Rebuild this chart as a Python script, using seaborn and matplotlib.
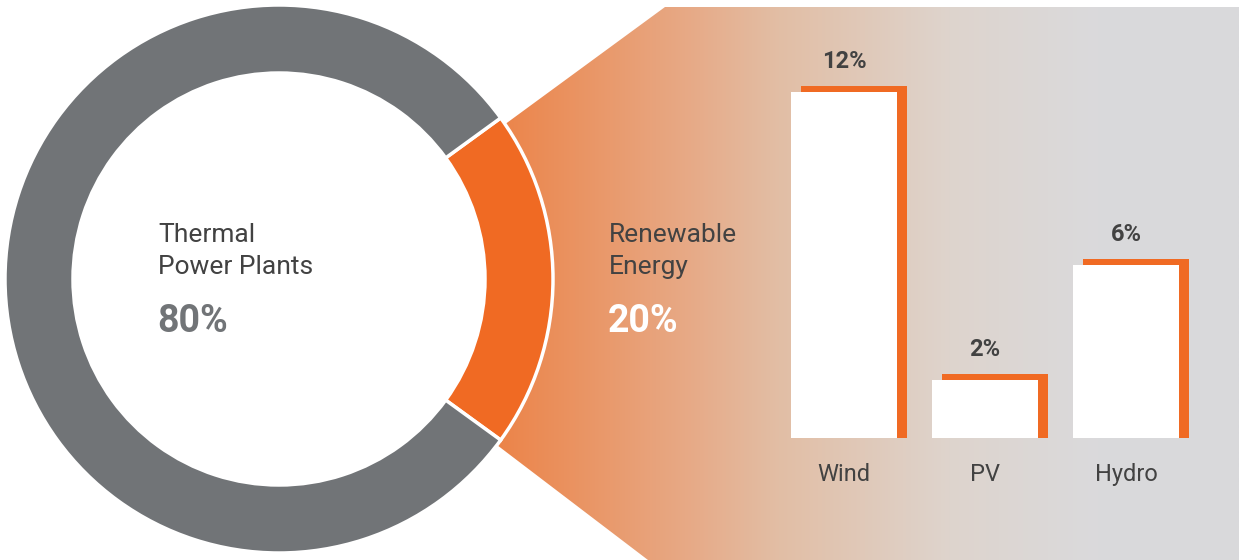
import numpy as np
import pandas as pd
import seaborn as sns
import matplotlib.pyplot as plt
from matplotlib.colors import LinearSegmentedColormap
from matplotlib.patches import Polygon
from matplotlib.transforms import ScaledTranslation


# donut: share of power generation
share_labels = ['Renewable\nEnergy', 'Thermal\nPower Plants']
share_values = [20, 80]

# breakdown of the renewable part
sources = ['Wind', 'PV', 'Hydro']
source_values = [12, 2, 6]

orange = '#F06A23'
gray = '#717477'
text_dark = '#424242'

sns.set_theme(style='white')
plt.rcParams['font.family'] = ['Roboto', 'DejaVu Sans']

fig = plt.figure(figsize=(12.39, 5.6), dpi=100)
ax = fig.add_axes([0, 0, 1, 1])  # pixel-like coordinates for the decorations

# gradient band that fans out of the renewable wedge
band_cmap = LinearSegmentedColormap.from_list('band', [
    (0.0, '#EC8449'), (0.26, '#E7AA87'), (0.38, '#E2BEA5'),
    (0.61, '#DED4CD'), (0.81, '#DADADC'), (1.0, '#D9D9DB')])
band = Polygon([(504, 435), (665, 553), (1239, 553), (1239, 0), (648, 0), (497, 115)],
               closed=True, facecolor='none', edgecolor='none')
ax.add_patch(band)
img = ax.imshow(np.linspace(0, 1, 256)[None, :], cmap=band_cmap,
                extent=(497, 1239, 0, 560), aspect='auto', zorder=0)
img.set_clip_path(band)

# donut
ax.pie(share_values, colors=[orange, gray], startangle=-36, radius=274, center=(279, 281),
       wedgeprops=dict(width=68, edgecolor='white', linewidth=2.5))
ax.set_xlim(0, 1239)
ax.set_ylim(0, 560)
ax.set_aspect('auto')
ax.axis('off')

# donut labels
ax.text(158, 309, share_labels[1], fontsize=19, color=text_dark, va='center', linespacing=1.4)
ax.text(157, 239, f'{share_values[1]}%', fontsize=27, fontweight='bold', color=gray, va='center')
ax.text(609, 309, share_labels[0], fontsize=19, color=text_dark, va='center', linespacing=1.4)
ax.text(608, 239, f'{share_values[0]}%', fontsize=27, fontweight='bold', color='white', va='center')

# bar chart of the renewable sources
ax_bar = fig.add_axes([759.4 / 1239, 122 / 560, 451.2 / 1239, 403.7 / 560])
df = pd.DataFrame({'source': sources, 'share': source_values})
df['shadow'] = df['share'] + 0.21

sns.barplot(data=df, x='source', y='shadow', color=orange, saturation=1, width=0.75,
            linewidth=0, errorbar=None, ax=ax_bar)
shift = ax_bar.transData + ScaledTranslation(0.1, 0, fig.dpi_scale_trans)
for p in ax_bar.patches:
    p.set_transform(shift)

sns.barplot(data=df, x='source', y='share', color='white', saturation=1, width=0.75,
            linewidth=0, errorbar=None, ax=ax_bar)
ax_bar.bar_label(ax_bar.containers[1], labels=[f'{v}%' for v in source_values], padding=14,
                 fontsize=17, fontweight='bold', color=text_dark)

ax_bar.set_xlim(-0.6, 2.6)
ax_bar.set_ylim(0, 14)
ax_bar.set_xlabel('')
ax_bar.set_ylabel('')
ax_bar.set_yticks([])
ax_bar.tick_params(axis='x', length=0, pad=18, labelsize=17, labelcolor=text_dark)
sns.despine(ax=ax_bar, left=True, bottom=True)
ax_bar.patch.set_alpha(0)

fig.savefig('out.png', dpi=100)
